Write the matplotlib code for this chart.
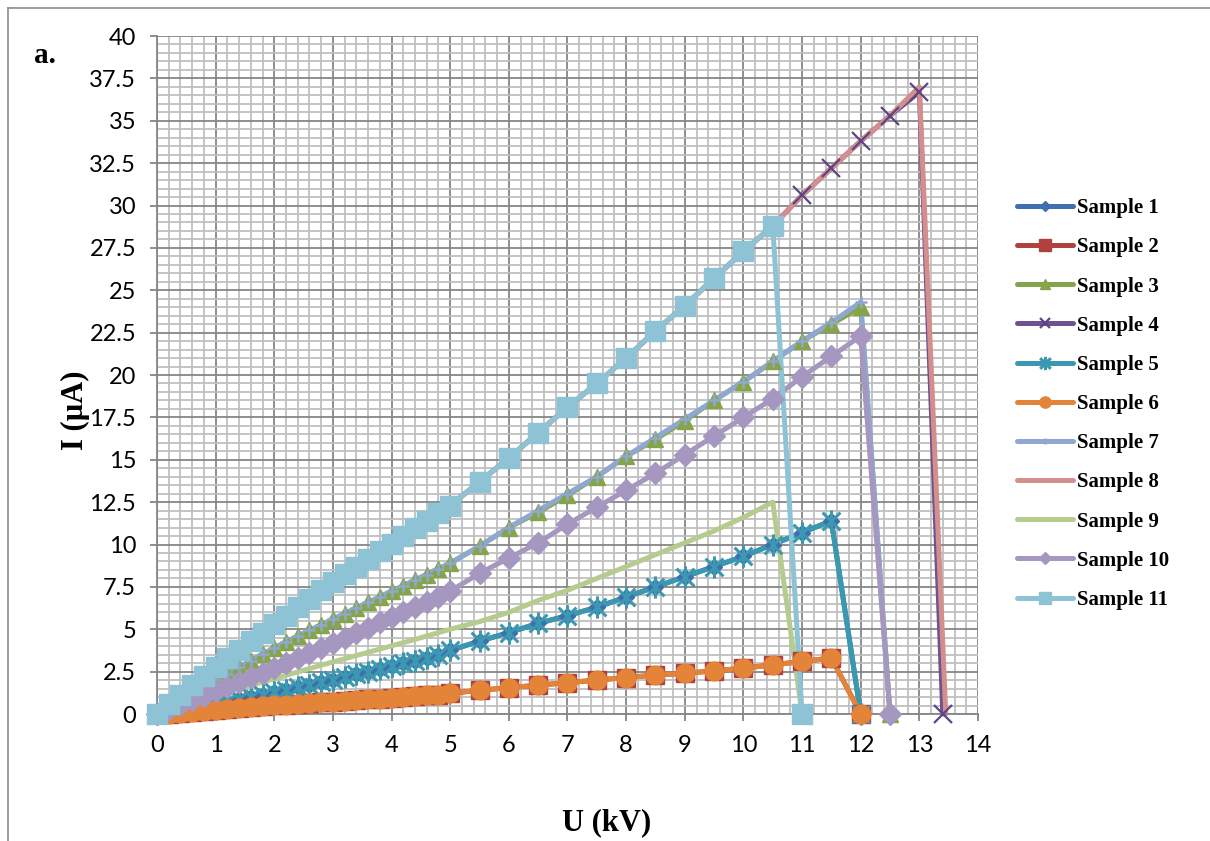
import matplotlib
matplotlib.use('Agg')
import matplotlib.pyplot as plt
from matplotlib.lines import Line2D
from matplotlib.path import Path
from matplotlib.ticker import MultipleLocator, FormatStrFormatter

# voltage steps: dense up to 5 kV, then every 0.5 kV
u_low = [0.0, 0.2, 0.4, 0.6, 0.8, 1.0, 1.2, 1.4, 1.6, 1.8, 2.0, 2.2, 2.4,
         2.6, 2.8, 3.0, 3.2, 3.4, 3.6, 3.8, 4.0, 4.2, 4.4, 4.6, 4.8, 5.0]

u1 = u_low + [5.5, 6.0, 6.5, 7.0, 7.5, 8.0, 8.5, 9.0, 9.5, 10.0, 10.5, 11.0, 11.5, 12.0]
i1 = [0, 0.1, 0.2, 0.32, 0.45, 0.58, 0.72, 0.86, 1.0, 1.14, 1.28, 1.42, 1.57,
      1.72, 1.87, 2.02, 2.18, 2.34, 2.5, 2.66, 2.82, 2.98, 3.14, 3.3, 3.47, 3.75,
      4.3, 4.8, 5.35, 5.8, 6.3, 6.9, 7.5, 8.1, 8.7, 9.3, 10.0, 10.7, 11.4, 0]

u2 = u_low + [5.5, 6.0, 6.5, 7.0, 7.5, 8.0, 8.5, 9.0, 9.5, 10.0, 10.5, 11.0, 11.5, 12.0]
i2 = [0, 0.02, 0.08, 0.14, 0.2, 0.26, 0.31, 0.36, 0.41, 0.46, 0.51, 0.55, 0.6,
      0.64, 0.68, 0.73, 0.77, 0.81, 0.86, 0.9, 0.95, 1.0, 1.05, 1.1, 1.15, 1.22,
      1.4, 1.55, 1.7, 1.85, 2.0, 2.15, 2.3, 2.4, 2.55, 2.7, 2.9, 3.1, 3.3, 0]

u3 = u_low + [5.5, 6.0, 6.5, 7.0, 7.5, 8.0, 8.5, 9.0, 9.5, 10.0, 10.5, 11.0, 11.5, 12.0, 12.5]
i3 = [0, 0.4, 0.8, 1.2, 1.6, 2.0, 2.38, 2.76, 3.14, 3.52, 3.9, 4.25, 4.6,
      4.93, 5.26, 5.59, 5.92, 6.25, 6.58, 6.91, 7.24, 7.57, 7.9, 8.23, 8.56, 8.9,
      9.9, 11.0, 11.9, 12.9, 14.0, 15.2, 16.2, 17.3, 18.5, 19.6, 20.8, 22.0, 23.0, 24.0, 0]

u4 = u_low + [5.5, 6.0, 6.5, 7.0, 7.5, 8.0, 8.5, 9.0, 9.5, 10.0, 10.5, 11.0, 11.5,
              12.0, 12.5, 13.0, 13.4]
i4 = [0, 0.6, 1.15, 1.7, 2.25, 2.8, 3.3, 3.8, 4.3, 4.8, 5.3, 5.8, 6.3,
      6.8, 7.3, 7.8, 8.25, 8.7, 9.15, 9.6, 10.05, 10.5, 10.95, 11.4, 11.85, 12.3,
      13.7, 15.1, 16.6, 18.1, 19.5, 21.0, 22.6, 24.1, 25.7, 27.3, 28.8, 30.6, 32.2,
      33.8, 35.3, 36.7, 0]

u5 = u1
i5 = [0, 0.1, 0.2, 0.32, 0.45, 0.58, 0.72, 0.86, 1.0, 1.14, 1.28, 1.42, 1.57,
      1.72, 1.87, 2.02, 2.18, 2.34, 2.5, 2.66, 2.82, 2.98, 3.14, 3.3, 3.47, 3.75,
      4.3, 4.8, 5.35, 5.8, 6.3, 6.9, 7.5, 8.1, 8.7, 9.3, 10.0, 10.7, 11.4, 0]

u6 = u2
i6 = [0, 0.02, 0.08, 0.14, 0.2, 0.26, 0.31, 0.36, 0.41, 0.46, 0.51, 0.55, 0.6,
      0.64, 0.68, 0.73, 0.77, 0.81, 0.86, 0.9, 0.95, 1.0, 1.05, 1.1, 1.15, 1.22,
      1.4, 1.55, 1.7, 1.85, 2.0, 2.15, 2.3, 2.4, 2.55, 2.7, 2.9, 3.1, 3.3, 0]

u7 = u3
i7 = [0, 0.4, 0.8, 1.2, 1.6, 2.0, 2.38, 2.76, 3.14, 3.52, 3.9, 4.25, 4.6,
      4.93, 5.26, 5.59, 5.92, 6.25, 6.58, 6.91, 7.24, 7.57, 7.9, 8.23, 8.56, 8.9,
      9.9, 11.0, 12.0, 13.0, 14.0, 15.2, 16.3, 17.4, 18.5, 19.6, 20.8, 22.0, 23.1, 24.3, 0]

u8 = u_low + [5.5, 6.0, 6.5, 7.0, 7.5, 8.0, 8.5, 9.0, 9.5, 10.0, 10.5, 11.0, 11.5,
              12.0, 12.5, 13.0, 13.45]
i8 = [0, 0.6, 1.15, 1.7, 2.25, 2.8, 3.3, 3.8, 4.3, 4.8, 5.3, 5.8, 6.3,
      6.8, 7.3, 7.8, 8.25, 8.7, 9.15, 9.6, 10.05, 10.5, 10.95, 11.4, 11.85, 12.3,
      13.7, 15.1, 16.6, 18.1, 19.5, 21.0, 22.6, 24.1, 25.7, 27.3, 28.8, 30.6, 32.2,
      33.8, 35.3, 37.0, 0]

u9 = u_low + [5.5, 6.0, 6.5, 7.0, 7.5, 8.0, 8.5, 9.0, 9.5, 10.0, 10.5, 11.0]
i9 = [0, 0.22, 0.44, 0.66, 0.87, 1.08, 1.28, 1.48, 1.68, 1.88, 2.08, 2.28, 2.48,
      2.68, 2.88, 3.07, 3.26, 3.45, 3.64, 3.83, 4.02, 4.21, 4.4, 4.6, 4.8, 5.0,
      5.45, 6.0, 6.7, 7.3, 8.0, 8.7, 9.4, 10.1, 10.8, 11.6, 12.5, 0]

u10 = u3
i10 = [0, 0.27, 0.54, 0.81, 1.08, 1.35, 1.62, 1.89, 2.16, 2.43, 2.7, 3.0, 3.3,
       3.6, 3.9, 4.2, 4.5, 4.8, 5.1, 5.4, 5.7, 6.0, 6.3, 6.6, 6.9, 7.25,
       8.3, 9.2, 10.1, 11.2, 12.2, 13.2, 14.2, 15.3, 16.4, 17.5, 18.6, 19.9, 21.1, 22.3, 0]

u11 = u9
i11 = [0, 0.6, 1.15, 1.7, 2.25, 2.8, 3.3, 3.8, 4.3, 4.8, 5.3, 5.8, 6.3,
       6.8, 7.3, 7.8, 8.25, 8.7, 9.15, 9.6, 10.05, 10.5, 10.95, 11.4, 11.85, 12.3,
       13.7, 15.1, 16.6, 18.1, 19.5, 21.0, 22.6, 24.1, 25.7, 27.3, 28.8, 0]

labels = ['Sample %d' % k for k in range(1, 12)]
colors = ['#3F6FAE', '#B0413E', '#86A54A', '#6F528F', '#3A98B0', '#E38438',
          '#8EA8D2', '#D48E8C', '#B5CC8E', '#A597C0', '#8DC3D5']
marker_cols = ['#3F6FAE', '#B0413E', '#86A54A', '#5E4586', '#3A98B0', '#E38438',
               '#8EA8D2', '#D48E8C', '#B5CC8E', '#A597C0', '#8DC3D5']

# Excel "star" marker: an X with a vertical bar through it
star = Path([(-1, -1), (1, 1), (-1, 1), (1, -1), (0, -1.25), (0, 1.25)],
            [Path.MOVETO, Path.LINETO, Path.MOVETO, Path.LINETO, Path.MOVETO, Path.LINETO])

markers = ['D', 's', '^', 'x', star, 'o', '+', None, None, 'D', 's']
msizes = [8, 13.5, 11, 13, 16, 13.5, 8, 0, 0, 11, 14]
mews = [1, 1, 1, 1.6, 2.2, 1, 1.8, 0, 0, 1, 1]

series = [(u1, i1), (u2, i2), (u3, i3), (u4, i4), (u5, i5), (u6, i6),
          (u7, i7), (u8, i8), (u9, i9), (u10, i10), (u11, i11)]

fig = plt.figure(figsize=(12.1, 8.41), dpi=100)
ax = fig.add_axes([0.12975, 0.15101, 0.67851, 0.80618])

# lines first, markers on top (like Excel does)
for k, (u, i) in enumerate(series):
    ax.plot(u, i, color=colors[k], lw=3.6, solid_capstyle='round',
            solid_joinstyle='round', zorder=2, clip_on=False)
for k, (u, i) in enumerate(series):
    if markers[k] is None:
        continue
    ax.plot(u, i, linestyle='none', marker=markers[k], ms=msizes[k],
            mfc=marker_cols[k], mec=marker_cols[k], mew=mews[k],
            zorder=3, clip_on=False)

ax.set_xlim(0, 14)
ax.set_ylim(0, 40)
ax.xaxis.set_major_locator(MultipleLocator(1))
ax.xaxis.set_minor_locator(MultipleLocator(0.2))
ax.yaxis.set_major_locator(MultipleLocator(2.5))
ax.yaxis.set_minor_locator(MultipleLocator(0.5))
ax.yaxis.set_major_formatter(FormatStrFormatter('%g'))

ax.grid(which='minor', color='#BFBFBF', lw=1.3)
ax.grid(which='major', color='#868686', lw=1.3)
ax.set_axisbelow(True)

for side in ['top', 'right']:
    ax.spines[side].set_visible(False)
for side in ['left', 'bottom']:
    ax.spines[side].set_color('#868686')
    ax.spines[side].set_linewidth(1.3)

ax.tick_params(which='major', direction='out', length=5, width=1.3,
               color='#868686', labelsize=17, pad=10)
ax.tick_params(which='minor', length=0)
for t in ax.get_xticklabels() + ax.get_yticklabels():
    t.set_fontfamily('Lato')

serif = 'Liberation Serif'
fig.text(75 / 1210, 1 - 410 / 841, 'I (µA)', rotation=90, fontsize=22,
         fontweight='bold', family=serif, ha='center', va='center')
fig.text(0.5017, 0.004, 'U (kV)', fontsize=22, fontweight='bold', family=serif,
         ha='center', va='bottom')
fig.text(0.028, 0.925, 'a.', fontsize=21, fontweight='bold', family=serif,
         ha='left', va='baseline')

handles = []
for k in range(11):
    handles.append(Line2D([], [], color=colors[k], lw=3.6, solid_capstyle='round',
                          marker=markers[k] if markers[k] is not None else '',
                          ms=msizes[k], mfc=marker_cols[k], mec=marker_cols[k],
                          mew=mews[k]))
fig.legend(handles, labels, loc='center left', bbox_to_anchor=(1017 / 1210, 0.5196),
           frameon=False, borderpad=0, borderaxespad=0, handlelength=2.7,
           handletextpad=0.2, labelspacing=0.92, markerscale=0.6,
           prop={'family': serif, 'weight': 'bold', 'size': 15})

# chart border (left and top visible)
fig.add_artist(Line2D([8 / 1210, 8 / 1210], [0, 1 - 8 / 841], color='#8C8C8C', lw=1.2))
fig.add_artist(Line2D([8 / 1210, 1], [1 - 8 / 841, 1 - 8 / 841], color='#8C8C8C', lw=1.2))

fig.savefig('out.png', dpi=100)
